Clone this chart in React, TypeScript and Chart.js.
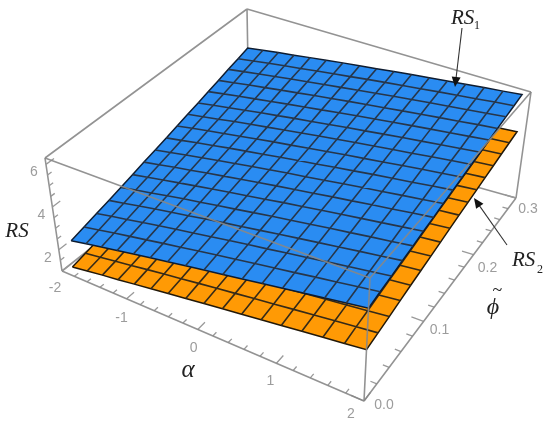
import React, { useEffect, useRef } from "react";
import { Chart, registerables } from "chart.js";

Chart.register(...registerables);

const alphaRange = [-2, 2];
const phiRange = [0, 0.3];
const rsRange = [1, 6.3];

const alphaMajor = [-2, -1, 0, 1, 2];
const alphaMinor = [-1.8, -1.6, -1.4, -1.2, -0.8, -0.6, -0.4, -0.2, 0.2, 0.4, 0.6, 0.8, 1.2, 1.4, 1.6, 1.8];
const phiMajor = [0, 0.1, 0.2, 0.3];
const phiMinor = [0.02, 0.04, 0.06, 0.08, 0.12, 0.14, 0.16, 0.18, 0.22, 0.24, 0.26, 0.28];
const rsMajor = [2, 4, 6];
const rsMinor = [1.5, 2.5, 3, 3.5, 4.5, 5, 5.5];

const alphaLabels = ["-2", "-1", "0", "1", "2"];
const phiLabels = ["0.0", "0.1", "0.2", "0.3"];
const rsLabels = ["2", "4", "6"];

// sampled domain of each sheet: near-left, near-right, far-right, far-left
const rs1AlphaDomain = [-2, 2, 1.894, -2];
const rs1PhiDomain = [0.016, 0, 0.3, 0.3];
const rs2AlphaDomain = [-1.9, 2, 1.897, -2];
const rs2PhiDomain = [0.006, 0, 0.3, 0.3];

const rs1 = [
  [1.97, 2.16, 2.35, 2.54, 2.73, 2.92, 3.11, 3.30, 3.49, 3.67, 3.86, 4.05, 4.24, 4.43, 4.62, 4.81, 5.00],
  [2.13, 2.31, 2.50, 2.68, 2.86, 3.05, 3.23, 3.42, 3.60, 3.78, 3.97, 4.15, 4.33, 4.52, 4.70, 4.89, 5.07],
  [2.29, 2.47, 2.64, 2.82, 3.00, 3.18, 3.35, 3.53, 3.71, 3.89, 4.06, 4.24, 4.42, 4.60, 4.78, 4.95, 5.13],
  [2.44, 2.61, 2.79, 2.96, 3.13, 3.30, 3.48, 3.65, 3.82, 3.99, 4.17, 4.34, 4.51, 4.68, 4.86, 5.03, 5.20],
  [2.60, 2.77, 2.93, 3.10, 3.27, 3.43, 3.60, 3.76, 3.93, 4.10, 4.26, 4.43, 4.60, 4.76, 4.93, 5.09, 5.26],
  [2.76, 2.92, 3.08, 3.24, 3.40, 3.56, 3.72, 3.88, 4.04, 4.21, 4.37, 4.53, 4.69, 4.85, 5.01, 5.17, 5.33],
  [2.92, 3.07, 3.23, 3.38, 3.54, 3.69, 3.85, 4.00, 4.16, 4.31, 4.46, 4.62, 4.77, 4.93, 5.08, 5.24, 5.39],
  [3.07, 3.22, 3.37, 3.52, 3.67, 3.82, 3.97, 4.12, 4.27, 4.41, 4.56, 4.71, 4.86, 5.01, 5.16, 5.31, 5.46],
  [3.23, 3.37, 3.52, 3.66, 3.81, 3.95, 4.09, 4.24, 4.38, 4.52, 4.67, 4.81, 4.96, 5.10, 5.24, 5.39, 5.53],
  [3.39, 3.53, 3.67, 3.80, 3.94, 4.08, 4.22, 4.35, 4.49, 4.63, 4.77, 4.90, 5.04, 5.18, 5.32, 5.45, 5.59],
  [3.55, 3.68, 3.81, 3.95, 4.08, 4.21, 4.34, 4.47, 4.61, 4.74, 4.87, 5.00, 5.13, 5.26, 5.40, 5.53, 5.66],
  [3.70, 3.83, 3.95, 4.08, 4.21, 4.33, 4.46, 4.58, 4.71, 4.84, 4.96, 5.09, 5.22, 5.34, 5.47, 5.59, 5.72],
  [3.86, 3.98, 4.10, 4.22, 4.34, 4.46, 4.58, 4.70, 4.83, 4.95, 5.07, 5.19, 5.31, 5.43, 5.55, 5.67, 5.79],
  [4.02, 4.13, 4.25, 4.36, 4.48, 4.59, 4.71, 4.82, 4.94, 5.05, 5.16, 5.28, 5.39, 5.51, 5.62, 5.74, 5.85],
  [4.18, 4.29, 4.40, 4.51, 4.62, 4.72, 4.83, 4.94, 5.05, 5.16, 5.27, 5.38, 5.49, 5.59, 5.70, 5.81, 5.92],
  [4.33, 4.43, 4.54, 4.64, 4.74, 4.85, 4.95, 5.05, 5.16, 5.26, 5.36, 5.46, 5.57, 5.67, 5.77, 5.88, 5.98],
  [4.49, 4.59, 4.69, 4.78, 4.88, 4.98, 5.08, 5.17, 5.27, 5.37, 5.47, 5.56, 5.66, 5.76, 5.86, 5.95, 6.05],
];

const rs2 = [
  [1.14, 1.27, 1.40, 1.52, 1.65, 1.78, 1.91, 2.04, 2.17, 2.30, 2.43, 2.56, 2.69, 2.82, 2.95, 3.08, 3.21],
  [1.26, 1.38, 1.51, 1.63, 1.76, 1.89, 2.01, 2.14, 2.27, 2.39, 2.52, 2.64, 2.77, 2.90, 3.02, 3.15, 3.27],
  [1.39, 1.51, 1.63, 1.75, 1.88, 2.00, 2.12, 2.24, 2.36, 2.48, 2.61, 2.73, 2.85, 2.97, 3.09, 3.21, 3.33],
  [1.51, 1.63, 1.75, 1.87, 1.98, 2.10, 2.22, 2.34, 2.46, 2.58, 2.70, 2.81, 2.93, 3.05, 3.17, 3.28, 3.40],
  [1.63, 1.75, 1.86, 1.98, 2.09, 2.21, 2.32, 2.44, 2.55, 2.67, 2.78, 2.89, 3.01, 3.12, 3.23, 3.35, 3.46],
  [1.76, 1.87, 1.98, 2.09, 2.20, 2.31, 2.42, 2.53, 2.64, 2.75, 2.86, 2.97, 3.08, 3.19, 3.30, 3.41, 3.52],
  [1.89, 1.99, 2.10, 2.20, 2.31, 2.41, 2.52, 2.63, 2.73, 2.84, 2.95, 3.05, 3.16, 3.26, 3.37, 3.47, 3.58],
  [2.01, 2.11, 2.21, 2.32, 2.42, 2.52, 2.62, 2.73, 2.83, 2.93, 3.03, 3.13, 3.24, 3.34, 3.44, 3.54, 3.64],
  [2.14, 2.24, 2.34, 2.43, 2.53, 2.63, 2.73, 2.83, 2.93, 3.02, 3.12, 3.22, 3.32, 3.42, 3.51, 3.61, 3.71],
  [2.26, 2.35, 2.45, 2.54, 2.64, 2.73, 2.83, 2.92, 3.02, 3.11, 3.20, 3.30, 3.39, 3.49, 3.58, 3.68, 3.77],
  [2.39, 2.48, 2.57, 2.66, 2.75, 2.84, 2.93, 3.02, 3.11, 3.20, 3.29, 3.38, 3.47, 3.56, 3.65, 3.74, 3.83],
  [2.51, 2.60, 2.68, 2.77, 2.86, 2.94, 3.03, 3.11, 3.20, 3.29, 3.37, 3.46, 3.55, 3.63, 3.72, 3.80, 3.89],
  [2.63, 2.71, 2.80, 2.88, 2.96, 3.04, 3.13, 3.21, 3.29, 3.37, 3.46, 3.54, 3.62, 3.70, 3.79, 3.87, 3.95],
  [2.75, 2.83, 2.91, 2.99, 3.07, 3.14, 3.22, 3.30, 3.38, 3.46, 3.54, 3.62, 3.70, 3.77, 3.85, 3.93, 4.01],
  [2.88, 2.96, 3.03, 3.11, 3.18, 3.26, 3.33, 3.41, 3.48, 3.56, 3.63, 3.71, 3.78, 3.86, 3.93, 4.01, 4.08],
  [3.00, 3.07, 3.14, 3.21, 3.29, 3.36, 3.43, 3.50, 3.57, 3.64, 3.71, 3.78, 3.86, 3.93, 4.00, 4.07, 4.14],
  [3.12, 3.19, 3.26, 3.32, 3.39, 3.46, 3.53, 3.59, 3.66, 3.73, 3.80, 3.86, 3.93, 4.00, 4.07, 4.13, 4.20],
];

// Camera: where the floor and ceiling of the plot box fall on the page
const floorQuad = [[62, 271], [364, 401], [516, 198], [249, 123]];
const ceilQuad = [[45, 158], [370, 278], [531, 92], [247, 9]];

// page offsets of the tick labels from their ticks
const alphaLabelOffsets = [[-7, 17], [-5, 19], [-4, 19], [-6, 18], [-13, 13]];
const phiLabelOffsets = [[20, 4], [16, 9], [14, 13], [12, 11]];
const rsLabelOffsets = [[-11, 8], [-11, 8], [-12, 8]];

type Pt = { x: number; y: number };

function homography(q: number[][]) {
  const [[x0, y0], [x1, y1], [x2, y2], [x3, y3]] = q;
  const dx1 = x1 - x2, dx2 = x3 - x2, sx = x0 - x1 + x2 - x3;
  const dy1 = y1 - y2, dy2 = y3 - y2, sy = y0 - y1 + y2 - y3;
  const den = dx1 * dy2 - dx2 * dy1;
  const g = (sx * dy2 - dx2 * sy) / den;
  const h = (dx1 * sy - sx * dy1) / den;
  const a = x1 - x0 + g * x1, b = x3 - x0 + h * x3;
  const d = y1 - y0 + g * y1, e = y3 - y0 + h * y3;
  return (u: number, v: number): [number, number] => {
    const k = g * u + h * v + 1;
    return [(a * u + b * v + x0) / k, (d * u + e * v + y0) / k];
  };
}
const floorMap = homography(floorQuad);
const ceilMap = homography(ceilQuad);

function project(alpha: number, phi: number, rs: number): Pt {
  const u = (alpha - alphaRange[0]) / (alphaRange[1] - alphaRange[0]);
  const v = (phi - phiRange[0]) / (phiRange[1] - phiRange[0]);
  const w = (rs - rsRange[0]) / (rsRange[1] - rsRange[0]);
  const f = floorMap(u, v);
  const c = ceilMap(u, v);
  return { x: f[0] + (c[0] - f[0]) * w, y: f[1] + (c[1] - f[1]) * w };
}

const GAP: Pt = { x: NaN, y: NaN };
const aLo = alphaRange[0], aHi = alphaRange[1], pLo = phiRange[0], pHi = phiRange[1], rLo = rsRange[0], rHi = rsRange[1];

function segments(list: number[][][]): Pt[] {
  const out: Pt[] = [];
  list.forEach((s, i) => {
    if (i) out.push(GAP);
    s.forEach((p) => out.push(project(p[0], p[1], p[2])));
  });
  return out;
}

function sheet(table: number[][], aDom: number[], pDom: number[]) {
  const n = table.length - 1;
  const node = (i: number, j: number): Pt => {
    const s = i / n, t = j / n;
    const mix = (d: number[]) =>
      d[0] * (1 - s) * (1 - t) + d[1] * s * (1 - t) + d[2] * s * t + d[3] * (1 - s) * t;
    return project(mix(aDom), mix(pDom), table[j][i]);
  };
  const mesh: Pt[] = [];
  for (let j = 1; j < n; j++) {
    for (let i = 0; i <= n; i++) mesh.push(node(i, j));
    mesh.push(GAP);
  }
  for (let i = 1; i < n; i++) {
    for (let j = 0; j <= n; j++) mesh.push(node(i, j));
    mesh.push(GAP);
  }
  const edge: Pt[] = [];
  for (let i = 0; i <= n; i++) edge.push(node(i, 0));
  for (let j = 1; j <= n; j++) edge.push(node(n, j));
  for (let i = n - 1; i >= 0; i--) edge.push(node(i, n));
  for (let j = n - 1; j >= 0; j--) edge.push(node(0, j));
  return { mesh, edge };
}

const BOX = "rgba(135,135,135,0.9)";
const TICK = "#9a9a9a";
const TEXT = "#9c9c9c";
const SANS = '"Liberation Sans", Arial, sans-serif';
const SERIF = '"Liberation Serif", "Times New Roman", serif';

function lineSet(data: Pt[], color: string, width: number, extra: object = {}) {
  return {
    data,
    showLine: true,
    borderColor: color,
    borderWidth: width,
    pointRadius: 0,
    pointHoverRadius: 0,
    fill: false,
    tension: 0,
    clip: false as const,
    ...extra,
  };
}

const arrow = (ctx: CanvasRenderingContext2D, x0: number, y0: number, x1: number, y1: number) => {
  const ang = Math.atan2(y1 - y0, x1 - x0);
  ctx.strokeStyle = "#333";
  ctx.lineWidth = 1.1;
  ctx.beginPath();
  ctx.moveTo(x0, y0);
  ctx.lineTo(x1 - 6 * Math.cos(ang), y1 - 6 * Math.sin(ang));
  ctx.stroke();
  ctx.fillStyle = "#111";
  ctx.beginPath();
  ctx.moveTo(x1, y1);
  ctx.lineTo(x1 - 11 * Math.cos(ang - 0.42), y1 - 11 * Math.sin(ang - 0.42));
  ctx.lineTo(x1 - 11 * Math.cos(ang + 0.42), y1 - 11 * Math.sin(ang + 0.42));
  ctx.closePath();
  ctx.fill();
};

const annotate = {
  id: "annotate",
  afterDraw(chart: Chart) {
    const ctx = chart.ctx;
    ctx.save();
    ctx.textAlign = "center";
    ctx.textBaseline = "middle";
    ctx.fillStyle = TEXT;
    ctx.font = `14px ${SANS}`;
    alphaMajor.forEach((a, i) => {
      const p = project(a, pLo, rLo);
      ctx.fillText(alphaLabels[i], p.x + alphaLabelOffsets[i][0], p.y + alphaLabelOffsets[i][1]);
    });
    phiMajor.forEach((f, i) => {
      const p = project(aHi, f, rLo);
      ctx.fillText(phiLabels[i], p.x + phiLabelOffsets[i][0], p.y + phiLabelOffsets[i][1]);
    });
    rsMajor.forEach((r, i) => {
      const p = project(aLo, pLo, r);
      ctx.fillText(rsLabels[i], p.x + rsLabelOffsets[i][0], p.y + rsLabelOffsets[i][1]);
    });

    ctx.fillStyle = "#222";
    ctx.font = `italic 25px ${SERIF}`;
    ctx.fillText("\u03B1", 188, 370);
    ctx.font = `italic 21px ${SERIF}`;
    ctx.fillText("RS", 17, 231);
    ctx.font = `italic 24px ${SERIF}`;
    ctx.fillText("\u03D5", 493, 308);
    ctx.font = `italic 18px ${SERIF}`;
    ctx.fillText("~", 497, 291);

    ctx.textAlign = "left";
    ctx.font = `italic 21px ${SERIF}`;
    ctx.fillText("RS", 451, 18);
    ctx.fillText("RS", 512, 260);
    ctx.font = `12px ${SERIF}`;
    ctx.fillText("1", 474, 26);
    ctx.fillText("2", 537, 270);

    arrow(ctx, 462, 28, 455, 87);
    arrow(ctx, 507, 245, 474, 198);
    ctx.restore();
  },
};

export default function App() {
  const ref = useRef<HTMLCanvasElement>(null);
  useEffect(() => {
    if (!ref.current) return;
    const back = segments([
      [[aLo, pLo, rLo], [aLo, pHi, rLo]],
      [[aLo, pHi, rLo], [aHi, pHi, rLo]],
      [[aLo, pHi, rLo], [aLo, pHi, rHi]],
      [[aLo, pLo, rHi], [aLo, pHi, rHi]],
      [[aLo, pHi, rHi], [aHi, pHi, rHi]],
      [[aHi, pHi, rLo], [aHi, pHi, rHi]],
      [[aLo, pLo, rLo], [aLo, pLo, rHi]],
    ]);
    const front = segments([
      [[aLo, pLo, rHi], [aHi, pLo, rHi]],
      [[aHi, pLo, rHi], [aHi, pHi, rHi]],
      [[aHi, pLo, rLo], [aHi, pLo, rHi]],
      [[aLo, pLo, rLo], [aHi, pLo, rLo]],
      [[aHi, pLo, rLo], [aHi, pHi, rLo]],
    ]);
    const tick = (major: number[], minor: number[], seg: (t: number, len: number) => number[][]) =>
      segments([...major.map((t) => seg(t, 1)), ...minor.map((t) => seg(t, 0.5))]);
    const ticks = [
      ...tick(alphaMajor, alphaMinor, (a, l) => [[a, pLo, rLo], [a, pLo + 0.01 * l, rLo]]),
      GAP,
      ...tick(phiMajor, phiMinor, (f, l) => [[aHi, f, rLo], [aHi - 0.14 * l, f, rLo]]),
      GAP,
      ...tick(rsMajor, rsMinor, (r, l) => [[aLo, pLo, r], [aLo, pLo + 0.01 * l, r]]),
    ];
    const s1 = sheet(rs1, rs1AlphaDomain, rs1PhiDomain);
    const s2 = sheet(rs2, rs2AlphaDomain, rs2PhiDomain);

    const layers = [
      lineSet(back, BOX, 1.6),
      lineSet(ticks, TICK, 1.3),
      lineSet(s2.edge, "#221808", 1.5, { fill: "shape", backgroundColor: "#ff9a05" }),
      lineSet(s2.mesh, "#352a18", 1.6),
      lineSet(s1.edge, "#0e1c30", 1.5, { fill: "shape", backgroundColor: "#2a8cf2" }),
      lineSet(s1.mesh, "#27364a", 1.6),
      lineSet(front, BOX, 1.6),
    ];
    const datasets = layers.map((l, i) => ({ ...l, order: layers.length - i }));

    const chart = new Chart(ref.current, {
      type: "scatter",
      data: { datasets: datasets as any },
      options: {
        animation: false,
        responsive: false,
        maintainAspectRatio: false,
        layout: { padding: 0 },
        events: [],
        plugins: { legend: { display: false }, tooltip: { enabled: false } },
        scales: {
          x: { type: "linear", min: 0, max: 550, display: false },
          y: { type: "linear", min: 0, max: 429, reverse: true, display: false },
        },
      },
      plugins: [annotate],
    });
    return () => chart.destroy();
  }, []);
  return (
    <canvas
      ref={ref}
      width={550}
      height={429}
      style={{ position: "absolute", left: 0, top: 0, width: 550, height: 429, background: "#fff", filter: "blur(0.5px)" }}
    />
  );
}
